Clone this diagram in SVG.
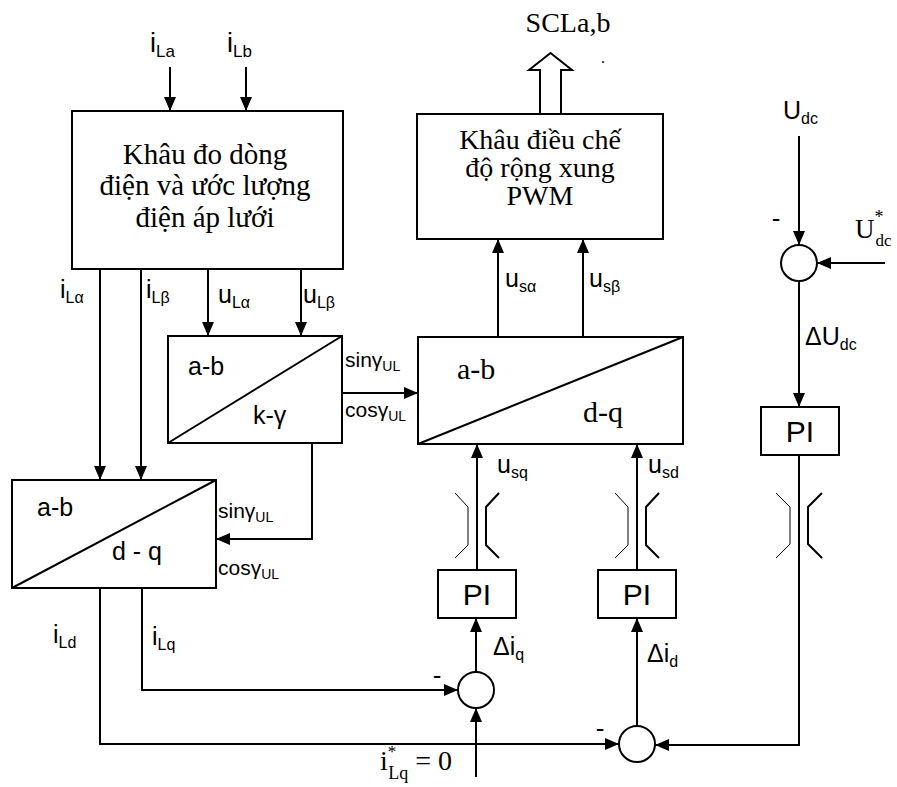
<svg xmlns="http://www.w3.org/2000/svg" width="897" height="787" viewBox="0 0 897 787">
<defs>
<marker id="ah" markerUnits="userSpaceOnUse" markerWidth="14" markerHeight="12" refX="14" refY="6" orient="auto">
<path d="M0,0 L14,6 L0,12 z" fill="#000"/>
</marker>
</defs>
<style>
.box{fill:#fff;stroke:#000;stroke-width:2}
.ln{fill:none;stroke:#000;stroke-width:2}
.thin{fill:none;stroke:#000;stroke-width:1}
.arr{fill:none;stroke:#000;stroke-width:2;marker-end:url(#ah)}
.sans{font-family:"Liberation Sans",Arial,sans-serif;fill:#000}
.serif{font-family:"Liberation Serif","Times New Roman",serif;fill:#000}
.m{font-size:25px}
.sb{font-size:16px}
.big{font-size:29px}
.mid{font-size:28px}
.pi{font-size:30px}
.trig{font-size:21px}
.tsb{font-size:14px}
</style>
<rect width="897" height="787" fill="#fff"/>

<g id="connectors">
<line class="arr" x1="170" y1="67" x2="170" y2="111"/>
<line class="arr" x1="246" y1="67" x2="246" y2="111"/>
<line class="arr" x1="100" y1="269" x2="100" y2="480"/>
<line class="arr" x1="141" y1="269" x2="141" y2="480"/>
<line class="arr" x1="208" y1="269" x2="208" y2="336"/>
<line class="arr" x1="301" y1="269" x2="301" y2="336"/>
<line class="arr" x1="342" y1="393" x2="418" y2="393"/>
<polyline class="arr" points="312,443 312,539 216,539"/>
<line class="arr" x1="498" y1="337" x2="498" y2="239"/>
<line class="arr" x1="583" y1="337" x2="583" y2="239"/>
<line class="arr" x1="477" y1="570" x2="477" y2="444"/>
<line class="arr" x1="637" y1="570" x2="637" y2="444"/>
<line class="arr" x1="476" y1="672" x2="476" y2="618"/>
<line class="arr" x1="637" y1="726" x2="637" y2="618"/>
<polyline class="arr" points="142,588 142,690 458,690"/>
<polyline class="arr" points="100,588 100,744 619,744"/>
<line class="arr" x1="476" y1="777" x2="476" y2="708"/>
<polyline class="arr" points="799,455 799,745 655,745"/>
<line class="arr" x1="799" y1="136" x2="799" y2="245"/>
<line class="arr" x1="885" y1="263" x2="817" y2="263"/>
<line class="arr" x1="799" y1="281" x2="799" y2="407"/>
<path d="M540,114 L540,70 L529,70 L550.5,53 L572,70 L561,70 L561,114" fill="#fff" stroke="#000" stroke-width="2"/>
</g>

<g id="breaks">
<polyline class="thin" points="455,493 468,507 468,545 455,558"/>
<polyline class="ln" points="499,493 486,507 486,545 499,558"/>
<polyline class="thin" points="615,493 628,507 628,545 615,558"/>
<polyline class="ln" points="659,493 646,507 646,545 659,558"/>
<polyline class="thin" points="776,493 790,507 790,544 776,558"/>
<polyline class="ln" points="822,493 808,507 808,544 822,558"/>
</g>

<g id="n_measure">
<rect class="box" x="72" y="111" width="271" height="158"/>
<text class="serif big" text-anchor="middle" x="205" y="164">Khâu đo dòng</text>
<text class="serif big" text-anchor="middle" x="205" y="195">điện và ước lượng</text>
<text class="serif big" text-anchor="middle" x="205" y="227">điện áp lưới</text>
</g>

<g id="n_pwm">
<rect class="box" x="417" y="114" width="246" height="125"/>
<text class="serif mid" text-anchor="middle" x="540" y="149">Khâu điều chế</text>
<text class="serif mid" text-anchor="middle" x="540" y="177">độ rộng xung</text>
<text class="serif mid" text-anchor="middle" x="540" y="205">PWM</text>
</g>

<g id="n_kg">
<rect class="box" x="168" y="336" width="174" height="107"/>
<line class="ln" x1="168" y1="443" x2="342" y2="336"/>
<text class="sans m" x="188" y="375">a-b</text>
<text class="sans m" x="253" y="424">k-γ</text>
</g>

<g id="n_abdq_right">
<rect class="box" x="418" y="337" width="265" height="107"/>
<line class="ln" x1="418" y1="444" x2="683" y2="337"/>
<text class="serif pi" x="457" y="379">a-b</text>
<text class="serif pi" x="583" y="422">d-q</text>
</g>

<g id="n_abdq_left">
<rect class="box" x="12" y="480" width="204" height="108"/>
<line class="ln" x1="12" y1="588" x2="216" y2="480"/>
<text class="sans m" x="37" y="516">a-b</text>
<text class="sans m" x="112" y="560">d - q</text>
</g>

<g id="n_pi_q">
<rect class="box" x="438" y="570" width="78" height="48"/>
<text class="sans pi" text-anchor="middle" x="477" y="605">PI</text>
</g>
<g id="n_pi_d">
<rect class="box" x="598" y="570" width="78" height="48"/>
<text class="sans pi" text-anchor="middle" x="637" y="605">PI</text>
</g>
<g id="n_pi_dc">
<rect class="box" x="761" y="407" width="78" height="48"/>
<text class="sans pi" text-anchor="middle" x="800" y="442">PI</text>
</g>

<g id="n_sum_q"><circle class="box" cx="476" cy="690" r="18"/></g>
<g id="n_sum_d"><circle class="box" cx="637" cy="744" r="18"/></g>
<g id="n_sum_dc"><circle class="box" cx="799" cy="263" r="18"/></g>

<g id="labels">
<text class="sans" x="150" y="52"><tspan font-size="27">i</tspan><tspan font-size="17" dy="5">La</tspan></text>
<text class="sans" x="227" y="52"><tspan font-size="27">i</tspan><tspan font-size="17" dy="5">Lb</tspan></text>
<text class="serif" font-size="28" text-anchor="middle" x="568" y="32">SCLa,b</text>
<text class="serif" font-size="16" x="601" y="63">.</text>
<text class="sans" x="60" y="298"><tspan class="m">i</tspan><tspan class="sb" dy="5">Lα</tspan></text>
<text class="sans" x="146" y="298"><tspan class="m">i</tspan><tspan class="sb" dy="5">Lβ</tspan></text>
<text class="sans" x="218" y="303"><tspan class="m">u</tspan><tspan class="sb" dy="5">Lα</tspan></text>
<text class="sans" x="303" y="303"><tspan class="m">u</tspan><tspan class="sb" dy="5">Lβ</tspan></text>
<text class="sans" x="505" y="287"><tspan class="m">u</tspan><tspan class="sb" dy="5">sα</tspan></text>
<text class="sans" x="589" y="287"><tspan class="m">u</tspan><tspan class="sb" dy="5">sβ</tspan></text>
<text class="sans" x="345" y="367"><tspan class="trig">sinγ</tspan><tspan class="tsb" dy="4">UL</tspan></text>
<text class="sans" x="345" y="417"><tspan class="trig">cosγ</tspan><tspan class="tsb" dy="4">UL</tspan></text>
<text class="sans" x="218" y="518"><tspan class="trig">sinγ</tspan><tspan class="tsb" dy="4">UL</tspan></text>
<text class="sans" x="218" y="575"><tspan class="trig">cosγ</tspan><tspan class="tsb" dy="4">UL</tspan></text>
<text class="sans" x="497" y="473"><tspan class="m">u</tspan><tspan class="sb" dy="5">sq</tspan></text>
<text class="sans" x="648" y="473"><tspan class="m">u</tspan><tspan class="sb" dy="5">sd</tspan></text>
<text class="sans" x="493" y="655"><tspan class="m">Δi</tspan><tspan class="sb" dy="5">q</tspan></text>
<text class="sans" x="647" y="662"><tspan class="m">Δi</tspan><tspan class="sb" dy="5">d</tspan></text>
<text class="sans" x="53" y="643"><tspan class="m">i</tspan><tspan class="sb" dy="5">Ld</tspan></text>
<text class="sans" x="152" y="645"><tspan class="m">i</tspan><tspan class="sb" dy="5">Lq</tspan></text>
<text class="sans" font-size="26" text-anchor="middle" x="437" y="684">-</text>
<text class="sans" font-size="26" text-anchor="middle" x="600" y="737">-</text>
<text class="sans" font-size="26" text-anchor="middle" x="776" y="227">-</text>
<text class="serif" x="380" y="770"><tspan font-size="28">i</tspan><tspan font-size="17" dx="0" dy="-13">*</tspan><tspan font-size="18" dx="-8" dy="22">Lq</tspan><tspan font-size="28" dy="-9"> = 0</tspan></text>
<text class="sans" x="783" y="119"><tspan class="m">U</tspan><tspan class="sb" dy="5">dc</tspan></text>
<text class="sans" x="805" y="345"><tspan class="m">ΔU</tspan><tspan class="sb" dy="5">dc</tspan></text>
<text class="serif" x="855" y="238"><tspan font-size="27">U</tspan><tspan font-size="18" dy="-15">*</tspan><tspan font-size="17" dx="-8" dy="23">dc</tspan></text>
</g>
</svg>
